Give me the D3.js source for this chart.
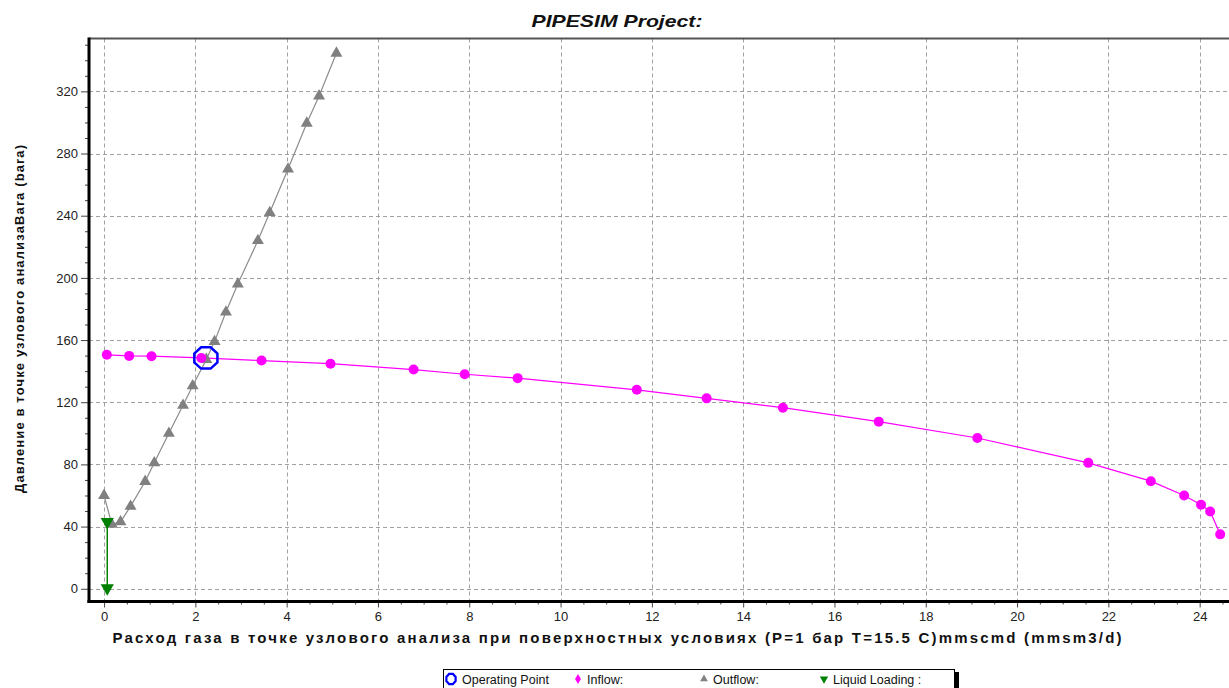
<!DOCTYPE html>
<html>
<head>
<meta charset="utf-8">
<script src="https://cdn.jsdelivr.net/npm/d3@7"></script>
<style>
  html, body { margin: 0; padding: 0; background: #fff; overflow: hidden; }
  svg { display: block; font-family: "Liberation Sans", Arial, sans-serif; }
</style>
</head>
<body>
<div id="chart"></div>
<script>
// --- data ---
const inflowX = [0.06, 0.55, 1.04, 2.13, 3.45, 4.96, 6.78, 7.9, 9.06, 11.67, 13.2, 14.87, 16.97, 19.13, 21.56, 22.93, 23.66, 24.03, 24.23, 24.45];
const inflowY = [150.5, 149.8, 149.6, 148.5, 146.8, 144.8, 141, 138, 135.5, 128, 122.5, 116.5, 107.5, 97, 81, 69.2, 60, 54, 49.7, 35];

const outflowX = [0.0, 0.17, 0.36, 0.58, 0.9, 1.1, 1.42, 1.73, 1.94, 2.24, 2.42, 2.67, 2.93, 3.37, 3.63, 4.03, 4.44, 4.71, 5.09];
const outflowY = [60, 41.5, 43, 53, 69, 81, 100, 118, 130.5, 147.5, 159, 178, 196, 224, 242, 270, 299.5, 317, 344.5];

const loadingX = [0.07, 0.07];
const loadingY = [43, 0.4];

const opPoint = { x: 2.23, y: 148.5 };

const xTicks = [0, 2, 4, 6, 8, 10, 12, 14, 16, 18, 20, 22, 24];
const yTicks = [0, 40, 80, 120, 160, 200, 240, 280, 320];

const titleText = "PIPESIM Project:";
const xLabelText = "Расход газа в точке узлового анализа при поверхностных условиях (P=1 бар  T=15.5 C)mmscmd (mmsm3/d)";
const yLabelText = "Давление в точке узлового анализаBara (bara)";
const legendItems = ["Operating Point", "Inflow:", "Outflow:", "Liquid Loading :"];

// --- layout ---
const W = 1229, H = 688;
const m = { left: 89, top: 38.5, bottom: 601.5 };

const svg = d3.select("#chart").append("svg")
  .attr("width", W).attr("height", H);

const x = d3.scaleLinear().domain([-0.33, 25]).range([m.left, m.left + 25.33 * 45.65]);
const y = d3.scaleLinear().domain([-8.2, 354]).range([m.bottom, m.top]);
const xR = x.range()[1];

// grid
const grid = svg.append("g").attr("stroke", "#a0a0a0").attr("stroke-width", 1).attr("stroke-dasharray", "4,3");
grid.selectAll(".gx").data(xTicks).join("line")
  .attr("x1", d => Math.round(x(d)) + 0.5).attr("x2", d => Math.round(x(d)) + 0.5)
  .attr("y1", m.top).attr("y2", m.bottom);
grid.selectAll(".gy").data(yTicks).join("line")
  .attr("y1", d => Math.round(y(d)) + 0.5).attr("y2", d => Math.round(y(d)) + 0.5)
  .attr("x1", m.left).attr("x2", xR);

// axes
const yAxis = d3.axisLeft(y).tickValues(yTicks).tickSize(8).tickPadding(3);
const yMinor = d3.axisLeft(y).tickValues(d3.range(-0, 351, 10).filter(v => v % 40 !== 0)).tickSize(4).tickFormat("");
const xAxis = d3.axisBottom(x).tickValues(xTicks).tickSize(6).tickPadding(4);
const xMinor = d3.axisBottom(x).tickValues(d3.range(0, 25, 0.5).filter(v => v % 2 !== 0)).tickSize(3).tickFormat("");

function styleAxis(g) {
  g.select(".domain").remove();
  g.selectAll(".tick line").attr("stroke", "#444");
  g.selectAll("text").attr("fill", "#222").style("font-size", "13px");
}

svg.append("g").attr("transform", `translate(${m.left},0)`).call(yMinor).call(styleAxis);
svg.append("g").attr("transform", `translate(${m.left},0)`).call(yAxis).call(styleAxis);
svg.append("g").attr("transform", `translate(0,${m.bottom})`).call(xMinor).call(styleAxis);
svg.append("g").attr("transform", `translate(0,${m.bottom})`).call(xAxis).call(styleAxis);

// frame: thin top, thick left/bottom
svg.append("line").attr("x1", m.left).attr("x2", W).attr("y1", m.top).attr("y2", m.top)
  .attr("stroke", "#555").attr("stroke-width", 2);
svg.append("line").attr("x1", m.left).attr("x2", m.left).attr("y1", m.top - 1).attr("y2", m.bottom + 1.5)
  .attr("stroke", "#000").attr("stroke-width", 3);
svg.append("line").attr("x1", m.left - 1.5).attr("x2", W).attr("y1", m.bottom).attr("y2", m.bottom)
  .attr("stroke", "#000").attr("stroke-width", 3);

// series
const line = d3.line().x(d => x(d[0])).y(d => y(d[1]));
const outflow = outflowX.map((v, i) => [v, outflowY[i]]);
const inflow = inflowX.map((v, i) => [v, inflowY[i]]);
const loading = loadingX.map((v, i) => [v, loadingY[i]]);

svg.append("path").datum(outflow).attr("d", line).attr("fill", "none").attr("stroke", "#8c8c8c").attr("stroke-width", 1.2);
svg.append("path").datum(inflow).attr("d", line).attr("fill", "none").attr("stroke", "#ff00ff").attr("stroke-width", 1.2);
svg.append("path").datum(loading).attr("d", line).attr("fill", "none").attr("stroke", "#008000").attr("stroke-width", 1.5);

const tri = d3.symbol().type(d3.symbolTriangle).size(62);
svg.append("g").selectAll("path").data(outflow).join("path")
  .attr("d", tri).attr("transform", d => `translate(${x(d[0])},${y(d[1])})`)
  .attr("fill", "#808080");

svg.append("g").selectAll("circle").data(inflow).join("circle")
  .attr("cx", d => x(d[0])).attr("cy", d => y(d[1])).attr("r", 5)
  .attr("fill", "#ff00ff");

svg.append("g").selectAll("path").data(loading).join("path")
  .attr("d", d3.symbol().type(d3.symbolTriangle).size(75))
  .attr("transform", d => `translate(${x(d[0])},${y(d[1])}) rotate(180)`)
  .attr("fill", "#008000");

// operating point octagon
function octagon(rx, ry) {
  const pts = d3.range(8).map(i => {
    const a = Math.PI / 8 + i * Math.PI / 4;
    return [rx * Math.cos(a), ry * Math.sin(a)];
  });
  return "M" + pts.map(p => p.join(",")).join("L") + "Z";
}
svg.append("path").attr("d", octagon(12.5, 11.5))
  .attr("transform", `translate(${x(opPoint.x)},${y(opPoint.y)})`)
  .attr("fill", "none").attr("stroke", "#0000ff").attr("stroke-width", 2.5);

// texts
svg.append("text").attr("x", 617).attr("y", 27).attr("text-anchor", "middle")
  .style("font-size", "17px").style("font-weight", "bold").style("font-style", "italic")
  .attr("fill", "#111").attr("textLength", 171).attr("lengthAdjust", "spacingAndGlyphs")
  .text(titleText);

svg.append("text").attr("x", 617).attr("y", 643).attr("text-anchor", "middle")
  .style("font-size", "15px").style("font-weight", "bold").attr("fill", "#111")
  .attr("textLength", 1009).attr("lengthAdjust", "spacing")
  .text(xLabelText);

svg.append("text").attr("transform", "translate(24,319) rotate(-90)").attr("text-anchor", "middle")
  .style("font-size", "13px").style("font-weight", "bold").attr("fill", "#111")
  .attr("textLength", 348).attr("lengthAdjust", "spacing")
  .text(yLabelText);

// legend
const lg = svg.append("g");
lg.append("rect").attr("x", 954).attr("y", 672).attr("width", 5).attr("height", 20).attr("fill", "#000");
lg.append("rect").attr("x", 443.5).attr("y", 669.5).attr("width", 511).attr("height", 25)
  .attr("fill", "#fff").attr("stroke", "#000").attr("stroke-width", 1);

const ly = 679;
lg.append("path").attr("d", octagon(5, 5.5)).attr("transform", `translate(451,${ly})`)
  .attr("fill", "none").attr("stroke", "#0000ff").attr("stroke-width", 2.2);
lg.append("path").attr("d", d3.symbol().type(d3.symbolDiamond).size(30)).attr("transform", `translate(578,${ly})`)
  .attr("fill", "#ff00ff");
lg.append("path").attr("d", d3.symbol().type(d3.symbolTriangle).size(26)).attr("transform", `translate(704,${ly})`)
  .attr("fill", "#808080");
lg.append("path").attr("d", d3.symbol().type(d3.symbolTriangle).size(30)).attr("transform", `translate(824,${ly}) rotate(180)`)
  .attr("fill", "#008000");

const lx = [462, 587, 713, 833];
lg.selectAll("text.li").data(legendItems).join("text")
  .attr("x", (d, i) => lx[i]).attr("y", ly + 4.5)
  .style("font-size", "12.5px").attr("fill", "#111")
  .text(d => d);
</script>
</body>
</html>
